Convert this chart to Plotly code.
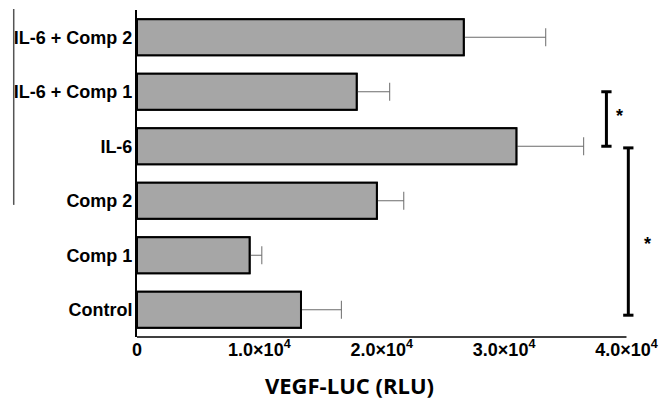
import plotly.graph_objects as go

categories = ["Control", "Comp 1", "Comp 2", "IL-6", "IL-6 + Comp 1", "IL-6 + Comp 2"]
values = [13400, 9200, 19600, 31000, 17950, 26700]
errors = [3300, 1000, 2200, 5500, 2700, 6700]
tick_vals = [0, 10000, 20000, 30000, 40000]
tick_text = ["0", "1.0×10<sup>4</sup>", "2.0×10<sup>4</sup>", "3.0×10<sup>4</sup>", "4.0×10<sup>4</sup>"]
x_title = "VEGF-LUC (RLU)"

XMAX = 42330
fig = go.Figure()
# bars with error bars
fig.add_trace(go.Bar(
    y=categories, x=values, orientation="h", width=0.66,
    marker=dict(color="#a6a6a6", line=dict(color="black", width=2)),
    error_x=dict(type="data", array=errors, arrayminus=[0] * len(errors), symmetric=False,
                 color="#6b6b6b", thickness=1, width=9),
    showlegend=False, hoverinfo="skip"))
# same bars on top to hide the inner error caps
fig.add_trace(go.Bar(
    y=categories, x=values, orientation="h", width=0.66,
    marker=dict(color="#a6a6a6", line=dict(color="black", width=2)),
    showlegend=False))

shapes = []
# x axis line (0 to 4e4)
shapes.append(dict(type="line", xref="paper", yref="paper", x0=0, x1=40000 / XMAX, y0=0, y1=0,
                   line=dict(color="black", width=1.5)))
# stray left line
shapes.append(dict(type="line", xref="paper", yref="paper", x0=-0.238, x1=-0.238, y0=0.404, y1=1.003,
                   line=dict(color="#555555", width=1.5)))

def bracket(x, y0, y1, cap=420):
    out = [dict(type="line", x0=x, x1=x, y0=y0, y1=y1, line=dict(color="black", width=3))]
    for yy in (y0, y1):
        out.append(dict(type="line", x0=x - cap, x1=x + cap, y0=yy, y1=yy, line=dict(color="black", width=3)))
    return out

shapes += bracket(38360, 3.0, 4.0)
shapes += bracket(40150, -0.1, 2.97)

star_font = dict(family="Liberation Sans", size=18, color="black", weight="bold")
annotations = [
    dict(x=39450, y=3.55, text="*", showarrow=False, font=star_font),
    dict(x=41700, y=1.2, text="*", showarrow=False, font=star_font),
    dict(x=17400, xref="x", y=-0.147, yref="paper", yanchor="middle", text=x_title, showarrow=False,
         font=dict(family="Open Sans", size=22, color="black", weight="bold")),
]

fig.update_layout(
    width=652, height=393,
    margin=dict(l=129, r=5, t=2, b=64),
    plot_bgcolor="white", paper_bgcolor="white",
    barmode="overlay",
    shapes=shapes, annotations=annotations,
    xaxis=dict(range=[0, XMAX], tickvals=tick_vals, ticktext=tick_text, showline=False,
               showgrid=False, zeroline=False, ticks="", automargin=False,
               tickfont=dict(family="Liberation Sans", size=18, color="black", weight="bold")),
    yaxis=dict(range=[-0.5, 5.5], showline=True, linecolor="black", linewidth=2, showgrid=False,
               zeroline=False, ticks="", automargin=False, ticklabelstandoff=-1,
               tickfont=dict(family="Liberation Sans", size=18, color="black", weight="bold")),
    font=dict(family="Liberation Sans"),
)

fig.write_html("out.html")
